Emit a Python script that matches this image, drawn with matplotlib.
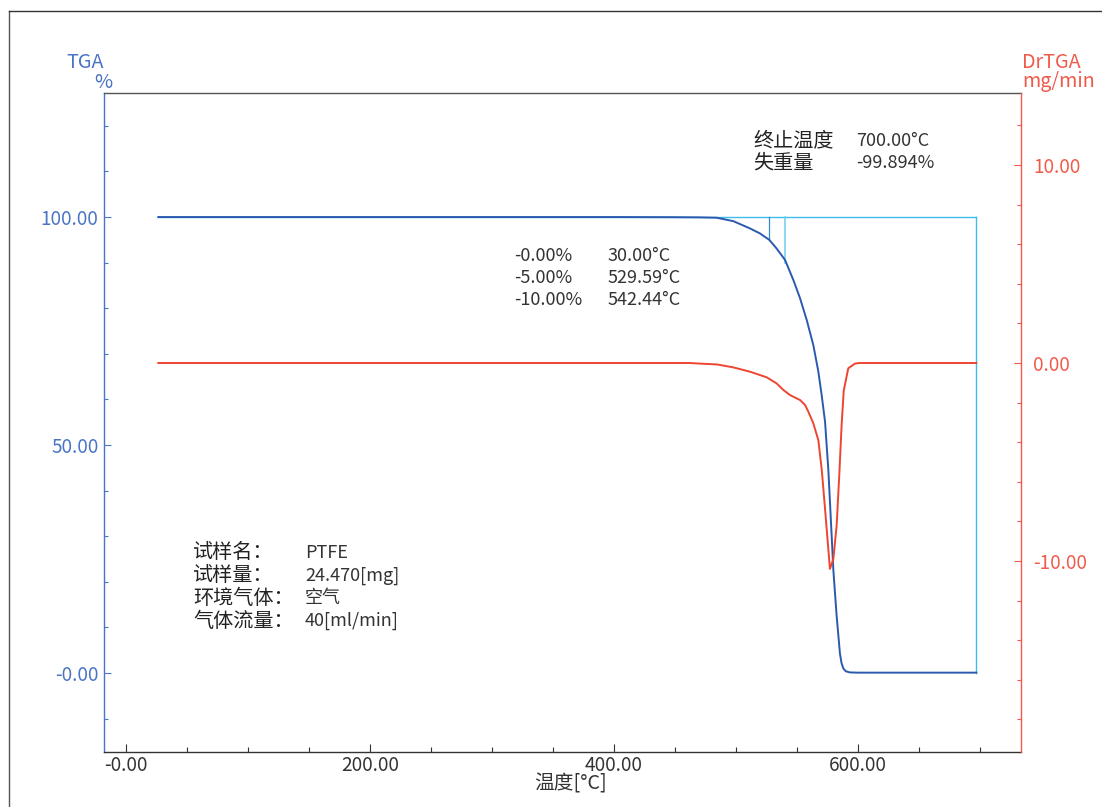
import matplotlib
matplotlib.use("Agg")
import matplotlib.pyplot as plt
from matplotlib.lines import Line2D
from matplotlib.ticker import MultipleLocator, FuncFormatter

plt.rcParams['font.family'] = ['Noto Sans CJK SC', 'DejaVu Sans']

# ---- data ----
tga_temp = [26.5, 100, 200, 300, 400, 450, 470, 484.2, 497.8, 511.5, 519.7, 527.3, 533.3, 540.2,
            547, 552.5, 558, 563.4, 567.5, 570.2, 573, 575.7, 577.5, 579.8, 582.5, 585.2, 586.5,
            588, 590, 593.4, 600, 650, 697]
tga_val = [100, 100, 100, 100, 100, 99.97, 99.93, 99.85, 99.1, 97.5, 96.4, 95.0, 93.1, 90.6,
           86.2, 82.2, 77.4, 71.9, 66.1, 61.0, 55.1, 44.5, 35.0, 22.6, 12.5, 4.3, 2.2,
           1.0, 0.4, 0.15, 0.1, 0.1, 0.1]

dr_temp = [26.5, 100, 200, 300, 400, 462, 470.5, 484.2, 497.8, 511.5, 525.1, 533.3, 538.8, 544.3,
           552.5, 556.6, 559.3, 563.4, 567.5, 570.3, 572.9, 577, 579.8, 582.5, 584.7, 586.6,
           588.3, 592, 597.5, 601, 650, 697]
dr_val = [0, 0, 0, 0, 0, 0, -0.03, -0.07, -0.22, -0.44, -0.72, -1.03, -1.36, -1.62,
          -1.87, -2.12, -2.46, -3.05, -3.9, -5.4, -7.3, -10.4, -9.9, -8.2, -5.6, -3.1,
          -1.4, -0.27, -0.03, 0, 0, 0]

x_ticks = [0, 200, 400, 600]
tga_ticks = [0, 50, 100]
dr_ticks = [-10, 0, 10]

onset_temps = [527.3, 540.2]
onset_levels = [95, 90]

info_labels = ['试样名：', '试样量：', '环境气体：', '气体流量：']
info_values = ['PTFE', '24.470[mg]', '空气', '40[ml/min]']
loss_pcts = ['-0.00%', '-5.00%', '-10.00%']
loss_temps = ['30.00°C', '529.59°C', '542.44°C']
end_labels = ['终止温度', '失重量']
end_values = ['700.00°C', '-99.894%']

# ---- colours ----
BLUE_AX = '#4a74c4'
BLUE_LINE = '#2a5aae'
RED_AX = '#f05a4a'
RED_LINE = '#ee4530'
CYAN = '#3cbce8'
TXT = '#333333'

W, H = 1102, 807
fig = plt.figure(figsize=(W / 100, H / 100), dpi=100)
ax = fig.add_axes([104 / W, 1 - 752 / H, (1021 - 104) / W, (752 - 93) / H])
ax2 = ax.twinx()

ax.set_xlim(-18, 733.6)
ax.set_ylim(-17.3, 127.2)
ax2.set_ylim(-19.65, 13.64)

t0, t1 = tga_temp[0], tga_temp[-1]
end_level = tga_val[-1]

# reference lines
ax.plot([t0, t1], [100, 100], color=CYAN, lw=1.0, zorder=2)
ax.plot([t1, t1], [100, end_level], color=CYAN, lw=1.0, zorder=2)
ax.plot([onset_temps[0]] * 2, [100, onset_levels[0]], color='#2f8ccc', lw=0.9, zorder=2)
ax.plot([onset_temps[1]] * 2, [100, onset_levels[1]], color='#6ccdf0', lw=1.1, zorder=2)

ax.plot(tga_temp, tga_val, color=BLUE_LINE, lw=1.4, zorder=3, solid_joinstyle='round')
ax2.plot(dr_temp, dr_val, color=RED_LINE, lw=1.4, zorder=3, solid_joinstyle='round')

fmt = FuncFormatter(lambda v, p: ('-0.00' if abs(v) < 1e-9 else f'{v:.2f}'))
fmt2 = FuncFormatter(lambda v, p: f'{v:.2f}' if abs(v) > 1e-9 else '0.00')

ax.set_xticks(x_ticks)
ax.xaxis.set_minor_locator(MultipleLocator(50))
ax.xaxis.set_major_formatter(fmt)
ax.set_yticks(tga_ticks)
ax.yaxis.set_minor_locator(MultipleLocator(10))
ax.yaxis.set_major_formatter(fmt)
ax2.set_yticks(dr_ticks)
ax2.yaxis.set_minor_locator(MultipleLocator(2))
ax2.yaxis.set_major_formatter(fmt2)

fs_tick = 13.7
fs_lab = 14.2
fs_ann = 13.0
fs_cjk = 14.5
ax.tick_params(axis='x', which='major', direction='in', length=6, width=0.8, colors='#333333',
               labelsize=fs_tick, pad=2)
ax.tick_params(axis='x', which='minor', direction='in', length=3.5, width=0.8, colors='#333333')
ax.tick_params(axis='y', which='major', direction='in', length=5, width=0.8, colors=BLUE_AX,
               labelsize=fs_tick, pad=4)
ax.tick_params(axis='y', which='minor', direction='in', length=3, width=0.8, colors=BLUE_AX)
ax2.tick_params(axis='y', which='major', direction='in', length=5, width=0.8, colors=RED_AX,
                labelsize=fs_tick, pad=9)
ax2.tick_params(axis='y', which='minor', direction='in', length=3, width=0.8, colors=RED_AX)

for lab in ax.get_xticklabels() + ax.get_yticklabels() + ax2.get_yticklabels():
    lab.set_fontweight('light')

ax.spines['left'].set_color(BLUE_AX)
ax.spines['top'].set_color('#555555')
ax.spines['bottom'].set_color('#333333')
ax.spines['right'].set_visible(False)
ax2.spines['left'].set_visible(False)
ax2.spines['top'].set_visible(False)
ax2.spines['bottom'].set_visible(False)
ax2.spines['right'].set_color(RED_AX)
for s in ax.spines.values():
    s.set_linewidth(1.0)
ax2.spines['right'].set_linewidth(1.0)

# axis labels (figure pixel coordinates)
def ftext(x, y, s, **kw):
    fig.text(x / W, 1 - y / H, s, **kw)

ftext(104, 62, 'TGA', ha='right', va='center', color=BLUE_AX, fontsize=fs_lab, fontweight='light')
ftext(112, 82, '%', ha='right', va='center', color=BLUE_AX, fontsize=fs_lab, fontweight='light')
ftext(1022, 62, 'DrTGA', ha='left', va='center', color=RED_AX, fontsize=fs_lab, fontweight='light')
ftext(1022, 82, 'mg/min', ha='left', va='center', color=RED_AX, fontsize=fs_lab, fontweight='light')
ftext(571, 784, '温度[°C]', ha='center', va='center', color=TXT, fontsize=fs_lab, fontweight='light')

for i, (a, b) in enumerate(zip(end_labels, end_values)):
    y = 141 + i * 22
    ftext(753, y, a, ha='left', va='center', color='#222222', fontsize=fs_cjk)
    ftext(856, y, b, ha='left', va='center', color=TXT, fontsize=fs_ann, fontweight='light')

for i, (a, b) in enumerate(zip(loss_pcts, loss_temps)):
    y = 256 + i * 22
    ftext(514, y, a, ha='left', va='center', color=TXT, fontsize=fs_ann, fontweight='light')
    ftext(608, y, b, ha='left', va='center', color=TXT, fontsize=fs_ann, fontweight='light')

for i, (a, b) in enumerate(zip(info_labels, info_values)):
    y = 553 + i * 22.7
    ftext(193, y, a, ha='left', va='center', color='#222222', fontsize=fs_cjk)
    ftext(305, y, b, ha='left', va='center', color=TXT, fontsize=fs_ann, fontweight='light')

# outer frame
fig.add_artist(Line2D([9 / W, 9 / W], [0, 1 - 11 / H], color='#555555', lw=1.0))
fig.add_artist(Line2D([9 / W, 1], [1 - 11 / H, 1 - 11 / H], color='#333333', lw=1.0))

fig.savefig('out.png', dpi=100)
